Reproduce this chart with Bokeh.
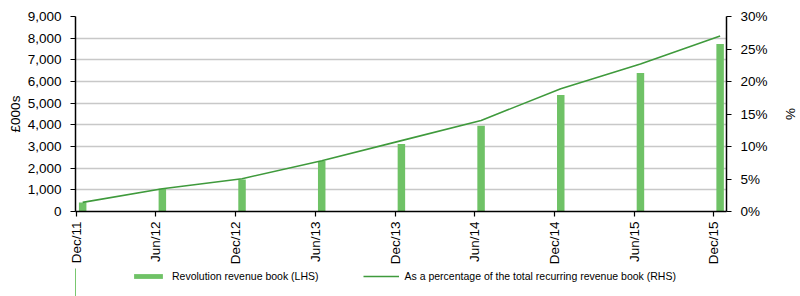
from math import pi
from bokeh.plotting import figure
from bokeh.layouts import column
from bokeh.models import (Range1d, LinearAxis, FixedTicker, NumeralTickFormatter,
                          PrintfTickFormatter, Legend, LegendItem, ColumnDataSource)
from bokeh.embed import file_html
from bokeh.resources import INLINE

periods = ["Dec/11", "Jun/12", "Dec/12", "Jun/13", "Dec/13", "Jun/14", "Dec/14", "Jun/15", "Dec/15"]
revenue_book = [420, 1050, 1480, 2330, 3110, 3960, 5380, 6390, 7730]
pct_of_total = [1.4, 3.5, 5.05, 7.8, 10.9, 14.0, 18.9, 22.7, 27.0]
series_names = ["Revolution revenue book (LHS)",
                "As a percentage of the total recurring revenue book (RHS)"]

FONT = "Liberation Sans"
BAR = "#6fc266"
LINE = "#3f9a3c"

idx = list(range(len(periods)))
xpos = [i + 0.08 for i in idx]
src = ColumnDataSource(dict(x=xpos, rev=revenue_book, pct=pct_of_total))

p = figure(width=800, height=268, output_backend="svg", toolbar_location=None,
           x_range=Range1d(-0.01, 8.16), y_range=Range1d(0, 9000),
           min_border_left=75, min_border_right=73, min_border_top=16, min_border_bottom=57)
p.outline_line_color = None
p.background_fill_color = "white"

p.extra_y_ranges = {"pct": Range1d(0, 30)}

bars = p.vbar(x="x", top="rev", width=0.094, source=src, fill_color=BAR, line_color=None)
ln = p.line(x="x", y="pct", source=src, y_range_name="pct", line_color=LINE, line_width=1.6)

# x axis
xa = p.xaxis[0]
xa.ticker = FixedTicker(ticks=idx)
xa.major_label_overrides = {i: s for i, s in zip(idx, periods)}
xa.major_label_orientation = pi / 2
xa.minor_tick_line_color = None

# left axis
ya = p.yaxis[0]
ya.ticker = FixedTicker(ticks=list(range(0, 9001, 1000)))
ya.formatter = NumeralTickFormatter(format="0,0")
ya.axis_label = "£000s"
ya.minor_tick_line_color = None

ra = LinearAxis(y_range_name="pct", ticker=FixedTicker(ticks=list(range(0, 31, 5))),
                formatter=PrintfTickFormatter(format="%d%%"), axis_label="%")
ra.minor_tick_line_color = None
p.add_layout(ra, "right")

for ax in [xa, ya, ra]:
    ax.axis_line_color = "black"
    ax.axis_line_width = 1.5
    ax.major_tick_line_color = "black"
    ax.major_tick_line_width = 1.2
    ax.major_tick_out = 5
    ax.major_tick_in = 0
    ax.major_label_text_font = FONT
    ax.major_label_text_font_size = "13.5px"
    ax.major_label_text_color = "black"
    ax.axis_label_text_font = FONT
    ax.axis_label_text_font_size = "13.5px"
    ax.axis_label_text_font_style = "normal"
    ax.axis_label_text_color = "black"
    ax.major_label_standoff = 9
    ax.axis_label_standoff = 2
xa.major_label_standoff = 5
ra.axis_label_standoff = 12

p.xgrid.grid_line_color = None
p.ygrid.ticker = FixedTicker(ticks=list(range(0, 9001, 1000)))
p.ygrid.grid_line_color = "#c8c8c8"
p.ygrid.grid_line_width = 1.5

# legend strip below the chart (its frame aligns with the chart frame in the column)
lg = figure(width=800, height=28, output_backend="svg", toolbar_location=None,
            x_range=Range1d(100, 101), y_range=Range1d(100, 101),
            x_axis_location=None, y_axis_location=None,
            min_border_left=0, min_border_right=0, min_border_top=0, min_border_bottom=0)
lg.outline_line_color = None
lg.xgrid.grid_line_color = None
lg.ygrid.grid_line_color = None
lbars = lg.vbar(x="x", top="rev", width=0.094, source=src, fill_color=BAR, line_color=None)
lline = lg.line(x="x", y="pct", source=src, line_color=LINE, line_width=1.6)

legend = Legend(items=[LegendItem(label=series_names[0], renderers=[lbars]),
                       LegendItem(label=series_names[1], renderers=[lline])],
                orientation="horizontal", location=(55, 14))
legend.label_text_font = FONT
legend.label_text_font_size = "10.5px"
legend.label_text_color = "black"
legend.glyph_width = 36
legend.glyph_height = 6
legend.label_height = 12
legend.spacing = 44
legend.padding = 0
legend.margin = 0
legend.border_line_color = None
legend.background_fill_alpha = 0
legend.label_standoff = 6
lg.add_layout(legend, "center")

layout = column(p, lg, spacing=0)
open("out.html", "w").write(file_html(layout, INLINE))
